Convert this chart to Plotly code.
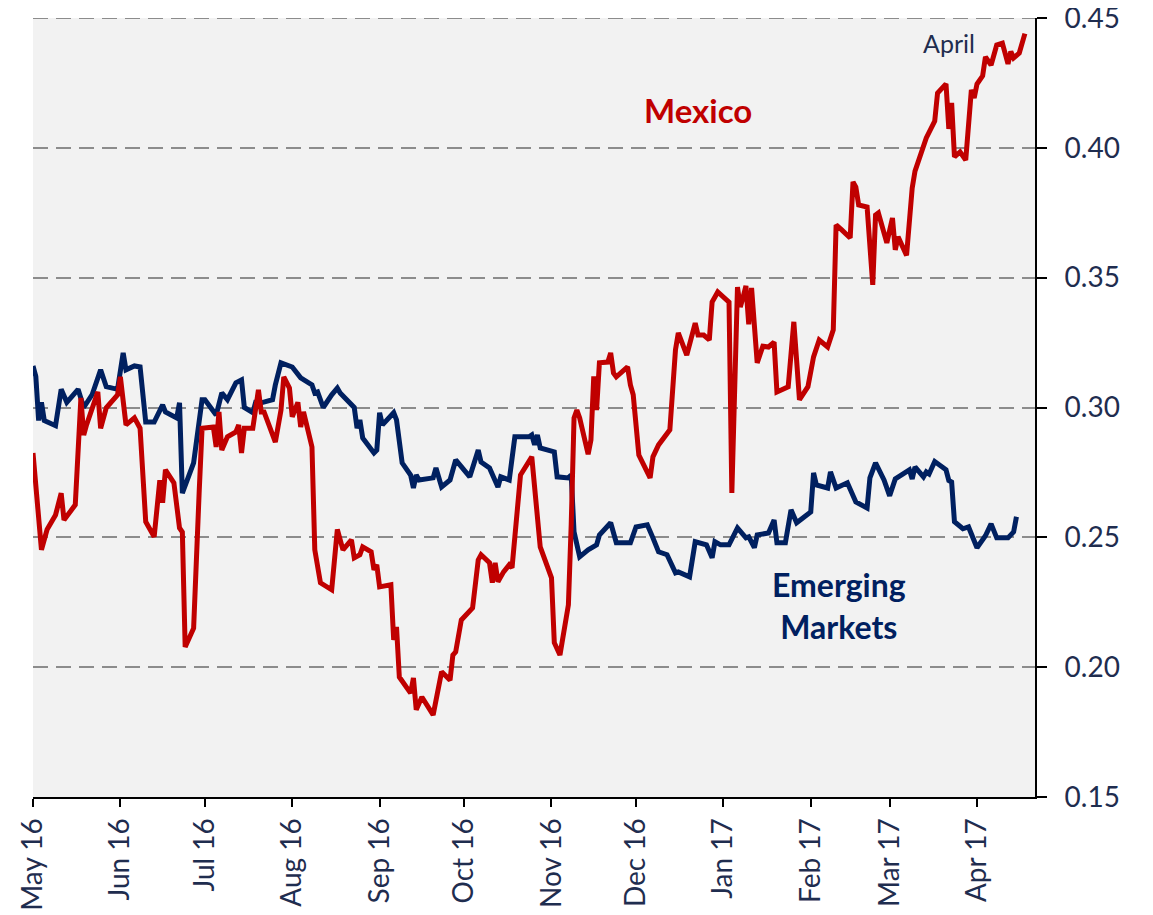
import plotly.graph_objects as go

# Emerging Markets series
em_dates = [
    "2016-05-01", "2016-05-02", "2016-05-03", "2016-05-04", "2016-05-05", "2016-05-09",
    "2016-05-11", "2016-05-13", "2016-05-17", "2016-05-19", "2016-05-22", "2016-05-25",
    "2016-05-27", "2016-05-31", "2016-06-02", "2016-06-03", "2016-06-06", "2016-06-08",
    "2016-06-10", "2016-06-13", "2016-06-16", "2016-06-17", "2016-06-21", "2016-06-22",
    "2016-06-23", "2016-06-27", "2016-06-30", "2016-07-01", "2016-07-05", "2016-07-07",
    "2016-07-09", "2016-07-12", "2016-07-14", "2016-07-15", "2016-07-18", "2016-07-19",
    "2016-07-21", "2016-07-25", "2016-07-26", "2016-07-28", "2016-08-01", "2016-08-04",
    "2016-08-08", "2016-08-09", "2016-08-10", "2016-08-12", "2016-08-15", "2016-08-17",
    "2016-08-18", "2016-08-23", "2016-08-24", "2016-08-25", "2016-08-26", "2016-08-30",
    "2016-08-31", "2016-09-01", "2016-09-02", "2016-09-06", "2016-09-07", "2016-09-09",
    "2016-09-12", "2016-09-13", "2016-09-14", "2016-09-15", "2016-09-20", "2016-09-21",
    "2016-09-23", "2016-09-26", "2016-09-28", "2016-10-03", "2016-10-06", "2016-10-07",
    "2016-10-10", "2016-10-13", "2016-10-14", "2016-10-17", "2016-10-19", "2016-10-24",
    "2016-10-25", "2016-10-26", "2016-10-27", "2016-10-28", "2016-11-02", "2016-11-03",
    "2016-11-07", "2016-11-08", "2016-11-09", "2016-11-11", "2016-11-14", "2016-11-15",
    "2016-11-17", "2016-11-18", "2016-11-22", "2016-11-24", "2016-11-29", "2016-12-01",
    "2016-12-05", "2016-12-07", "2016-12-09", "2016-12-12", "2016-12-15", "2016-12-16",
    "2016-12-20", "2016-12-22", "2016-12-26", "2016-12-28", "2016-12-29", "2016-12-31",
    "2017-01-03", "2017-01-06", "2017-01-09", "2017-01-10", "2017-01-12", "2017-01-13",
    "2017-01-17", "2017-01-19", "2017-01-20", "2017-01-23", "2017-01-25", "2017-01-27",
    "2017-02-01", "2017-02-02", "2017-02-03", "2017-02-07", "2017-02-08", "2017-02-10",
    "2017-02-14", "2017-02-17", "2017-02-21", "2017-02-22", "2017-02-24", "2017-02-27",
    "2017-03-01", "2017-03-03", "2017-03-06", "2017-03-08", "2017-03-09", "2017-03-10",
    "2017-03-13", "2017-03-14", "2017-03-15", "2017-03-17", "2017-03-21", "2017-03-22",
    "2017-03-23", "2017-03-24", "2017-03-27", "2017-03-29", "2017-04-01", "2017-04-04",
    "2017-04-06", "2017-04-08", "2017-04-12", "2017-04-14", "2017-04-15",
]
em_values = [
    0.316, 0.312, 0.295, 0.302, 0.295, 0.293,
    0.307, 0.302, 0.307, 0.300, 0.305, 0.3145,
    0.308, 0.307, 0.321, 0.3145, 0.316, 0.3156,
    0.2944, 0.2944, 0.301, 0.2983, 0.296, 0.3018,
    0.267, 0.2787, 0.303, 0.303, 0.2971, 0.3056,
    0.303, 0.3095, 0.3106, 0.300, 0.298, 0.302,
    0.3018, 0.303, 0.3087, 0.3172, 0.3156, 0.3114,
    0.3087, 0.3056, 0.306, 0.300, 0.3049, 0.3075,
    0.3056, 0.300, 0.292, 0.2952, 0.2883, 0.2825,
    0.2836, 0.298, 0.2933, 0.298, 0.2952, 0.2787,
    0.274, 0.269, 0.274, 0.2721, 0.2729, 0.2767,
    0.2694, 0.2721, 0.2798, 0.2733, 0.2836, 0.279,
    0.2767, 0.2694, 0.2733, 0.2721, 0.2887, 0.2887,
    0.2894, 0.2856, 0.2894, 0.2844, 0.2829, 0.2733,
    0.2729, 0.274, 0.2521, 0.2425, 0.2452, 0.246,
    0.2471, 0.2509, 0.2556, 0.2479, 0.2479, 0.254,
    0.2548, 0.2498, 0.2444, 0.2433, 0.2363, 0.2367,
    0.2348, 0.2483, 0.2471, 0.2421, 0.2483, 0.2471,
    0.2471, 0.2536, 0.2498, 0.2502, 0.246, 0.2509,
    0.2517, 0.2567, 0.2479, 0.2479, 0.2606, 0.2556,
    0.2598, 0.2748, 0.2702, 0.269, 0.2752, 0.269,
    0.271, 0.2636, 0.2613, 0.2729, 0.2787, 0.2721,
    0.266, 0.2725, 0.2744, 0.276, 0.2725, 0.2771,
    0.2733, 0.2752, 0.2744, 0.2792, 0.276, 0.2719,
    0.2713, 0.256, 0.2533, 0.254, 0.246, 0.2506,
    0.2552, 0.2498, 0.2498, 0.2521, 0.2579,
]

# Mexico series
mx_dates = [
    "2016-05-01", "2016-05-04", "2016-05-06", "2016-05-09", "2016-05-11", "2016-05-12",
    "2016-05-16", "2016-05-18", "2016-05-19", "2016-05-20", "2016-05-24", "2016-05-25",
    "2016-05-27", "2016-05-31", "2016-06-01", "2016-06-03", "2016-06-06", "2016-06-08",
    "2016-06-10", "2016-06-13", "2016-06-15", "2016-06-16", "2016-06-17", "2016-06-20",
    "2016-06-22", "2016-06-23", "2016-06-24", "2016-06-27", "2016-06-29", "2016-06-30",
    "2016-07-04", "2016-07-05", "2016-07-06", "2016-07-07", "2016-07-09", "2016-07-12",
    "2016-07-13", "2016-07-14", "2016-07-15", "2016-07-18", "2016-07-20", "2016-07-21",
    "2016-07-22", "2016-07-26", "2016-07-28", "2016-07-29", "2016-07-31", "2016-08-01",
    "2016-08-03", "2016-08-04", "2016-08-05", "2016-08-08", "2016-08-09", "2016-08-11",
    "2016-08-15", "2016-08-17", "2016-08-19", "2016-08-22", "2016-08-23", "2016-08-25",
    "2016-08-26", "2016-08-29", "2016-08-30", "2016-08-31", "2016-09-01", "2016-09-05",
    "2016-09-06", "2016-09-07", "2016-09-08", "2016-09-12", "2016-09-13", "2016-09-14",
    "2016-09-16", "2016-09-20", "2016-09-23", "2016-09-26", "2016-09-27", "2016-09-28",
    "2016-09-30", "2016-10-04", "2016-10-06", "2016-10-07", "2016-10-10", "2016-10-11",
    "2016-10-12", "2016-10-13", "2016-10-15", "2016-10-17", "2016-10-18", "2016-10-21",
    "2016-10-25", "2016-10-28", "2016-11-01", "2016-11-02", "2016-11-04", "2016-11-07",
    "2016-11-08", "2016-11-09", "2016-11-10", "2016-11-11", "2016-11-14", "2016-11-15",
    "2016-11-16", "2016-11-17", "2016-11-18", "2016-11-21", "2016-11-22", "2016-11-23",
    "2016-11-24", "2016-11-28", "2016-11-29", "2016-11-30", "2016-12-02", "2016-12-06",
    "2016-12-07", "2016-12-09", "2016-12-13", "2016-12-15", "2016-12-16", "2016-12-19",
    "2016-12-22", "2016-12-23", "2016-12-25", "2016-12-27", "2016-12-28", "2016-12-30",
    "2017-01-03", "2017-01-04", "2017-01-06", "2017-01-07", "2017-01-08", "2017-01-09",
    "2017-01-10", "2017-01-11", "2017-01-13", "2017-01-15", "2017-01-17", "2017-01-19",
    "2017-01-20", "2017-01-24", "2017-01-26", "2017-01-28", "2017-01-31", "2017-02-02",
    "2017-02-04", "2017-02-07", "2017-02-09", "2017-02-10", "2017-02-12", "2017-02-15",
    "2017-02-16", "2017-02-17", "2017-02-18", "2017-02-21", "2017-02-23", "2017-02-24",
    "2017-02-25", "2017-02-28", "2017-03-02", "2017-03-03", "2017-03-04", "2017-03-07",
    "2017-03-09", "2017-03-10", "2017-03-14", "2017-03-15", "2017-03-17", "2017-03-18",
    "2017-03-21", "2017-03-22", "2017-03-23", "2017-03-24", "2017-03-26", "2017-03-28",
    "2017-03-30", "2017-03-31", "2017-04-01", "2017-04-03", "2017-04-04", "2017-04-06",
    "2017-04-08", "2017-04-10", "2017-04-12", "2017-04-13", "2017-04-14", "2017-04-16",
    "2017-04-18",
]
mx_values = [
    0.2825, 0.2452, 0.253, 0.2586, 0.267, 0.2567,
    0.2625, 0.3037, 0.2894, 0.2933, 0.306, 0.292,
    0.2999, 0.3049, 0.3118, 0.2933, 0.296, 0.292,
    0.256, 0.2502, 0.272, 0.2633, 0.276, 0.271,
    0.2536, 0.252, 0.2078, 0.215, 0.2683, 0.292,
    0.2925, 0.2848, 0.2983, 0.2836, 0.2887, 0.2906,
    0.2933, 0.2825, 0.292, 0.292, 0.3068, 0.2983,
    0.2983, 0.2867, 0.299, 0.3118, 0.3075, 0.2964,
    0.302, 0.2925, 0.2983, 0.2848, 0.2452, 0.2325,
    0.2298, 0.253, 0.2452, 0.249, 0.2421, 0.2433,
    0.2463, 0.2444, 0.2375, 0.2394, 0.2309, 0.2317,
    0.2105, 0.2155, 0.1962, 0.190, 0.1958, 0.1836,
    0.1885, 0.1816, 0.1982, 0.195, 0.2047, 0.2059,
    0.2182, 0.2228, 0.2413, 0.2433, 0.2402, 0.2325,
    0.2402, 0.2329, 0.2367, 0.2394, 0.2383, 0.274,
    0.281, 0.2463, 0.2344, 0.2094, 0.2047, 0.224,
    0.255, 0.296, 0.299, 0.296, 0.282, 0.2875,
    0.312, 0.299, 0.3172, 0.3175, 0.321, 0.3133,
    0.3118, 0.3156, 0.3087, 0.3049, 0.2817, 0.2729,
    0.281, 0.2856, 0.2914, 0.3222, 0.3287, 0.3202,
    0.3325, 0.3279, 0.3279, 0.326, 0.3406, 0.3445,
    0.3406, 0.2671, 0.3464, 0.3387, 0.3425, 0.3468,
    0.332, 0.346, 0.3172, 0.3236, 0.3233, 0.3252,
    0.306, 0.308, 0.333, 0.303, 0.308, 0.3195,
    0.326, 0.3233, 0.3299, 0.3703, 0.3684, 0.3653,
    0.3869, 0.3849, 0.378, 0.3772, 0.3472, 0.3741,
    0.3749, 0.3634, 0.373, 0.3607, 0.3657, 0.3586,
    0.3845, 0.391, 0.4038, 0.4057, 0.4103, 0.4211,
    0.4246, 0.4073, 0.4173, 0.3965, 0.3984, 0.3953,
    0.4223, 0.4192, 0.4246, 0.4277, 0.435, 0.4319,
    0.4396, 0.4403, 0.4323, 0.4371, 0.4346, 0.4365,
    0.444,
]

y_ticks = [0.15, 0.20, 0.25, 0.30, 0.35, 0.40, 0.45]

RED = "#C00000"
NAVY = "#002060"
TXT = "#1F2D4F"
GRID = "#8C8C8C"
FONT = "Lato"

fig = go.Figure()
fig.add_trace(go.Scatter(x=em_dates, y=em_values, mode="lines",
                         line=dict(color=NAVY, width=5), name="Emerging Markets"))
fig.add_trace(go.Scatter(x=mx_dates, y=mx_values, mode="lines",
                         line=dict(color=RED, width=5), name="Mexico"))

fig.update_layout(
    width=1153, height=915,
    margin=dict(l=25, r=126, t=10, b=126, autoexpand=False),
    paper_bgcolor="white",
    plot_bgcolor="#F2F2F2",
    showlegend=False,
    font=dict(family=FONT, color=TXT),
    xaxis=dict(
        type="date",
        range=["2016-05-01", "2017-04-21 14:00"],
        dtick="M1", tick0="2016-05-01", tickformat="%b %y",
        tickangle=-90,
        ticks="outside", ticklen=8, tickwidth=2, tickcolor="black",
        showline=True, linecolor="black", linewidth=2,
        showgrid=False, zeroline=False, automargin=False,
        ticklabeloverflow="allow",
        tickfont=dict(family=FONT, size=28, color=TXT),
    ),
    yaxis=dict(
        side="right",
        range=[0.15, 0.45],
        tickvals=y_ticks,
        tickformat=".2f",
        ticks="outside", ticklen=10, tickwidth=2, tickcolor="black",
        showline=True, linecolor="black", linewidth=2,
        showgrid=True, gridcolor=GRID, gridwidth=2, griddash="15px,8px",
        zeroline=False, automargin=False,
        ticklabeloverflow="allow",
        ticklabelstandoff=12,
        tickfont=dict(family=FONT, size=28, color=TXT),
    ),
    shapes=[
        dict(type="line", xref="paper", yref="y", x0=0, x1=1, y0=y_ticks[-1], y1=y_ticks[-1],
             line=dict(color=GRID, width=2, dash="15px,8px"), layer="below"),
    ],
    annotations=[
        dict(x="2016-12-23", y=0.4146, text="<b>Mexico</b>", showarrow=False,
             font=dict(family=FONT, size=33, color=RED), xanchor="center", yanchor="middle"),
        dict(x="2017-02-11", y=0.2236, text="<b>Emerging<br>Markets</b>", showarrow=False,
             font=dict(family=FONT, size=32, color=NAVY), xanchor="center", yanchor="middle"),
        dict(x="2017-03-22", y=0.4404, text="April", showarrow=False,
             font=dict(family=FONT, size=25, color=TXT), xanchor="center", yanchor="middle"),
    ],
)

fig.write_html("out.html")
